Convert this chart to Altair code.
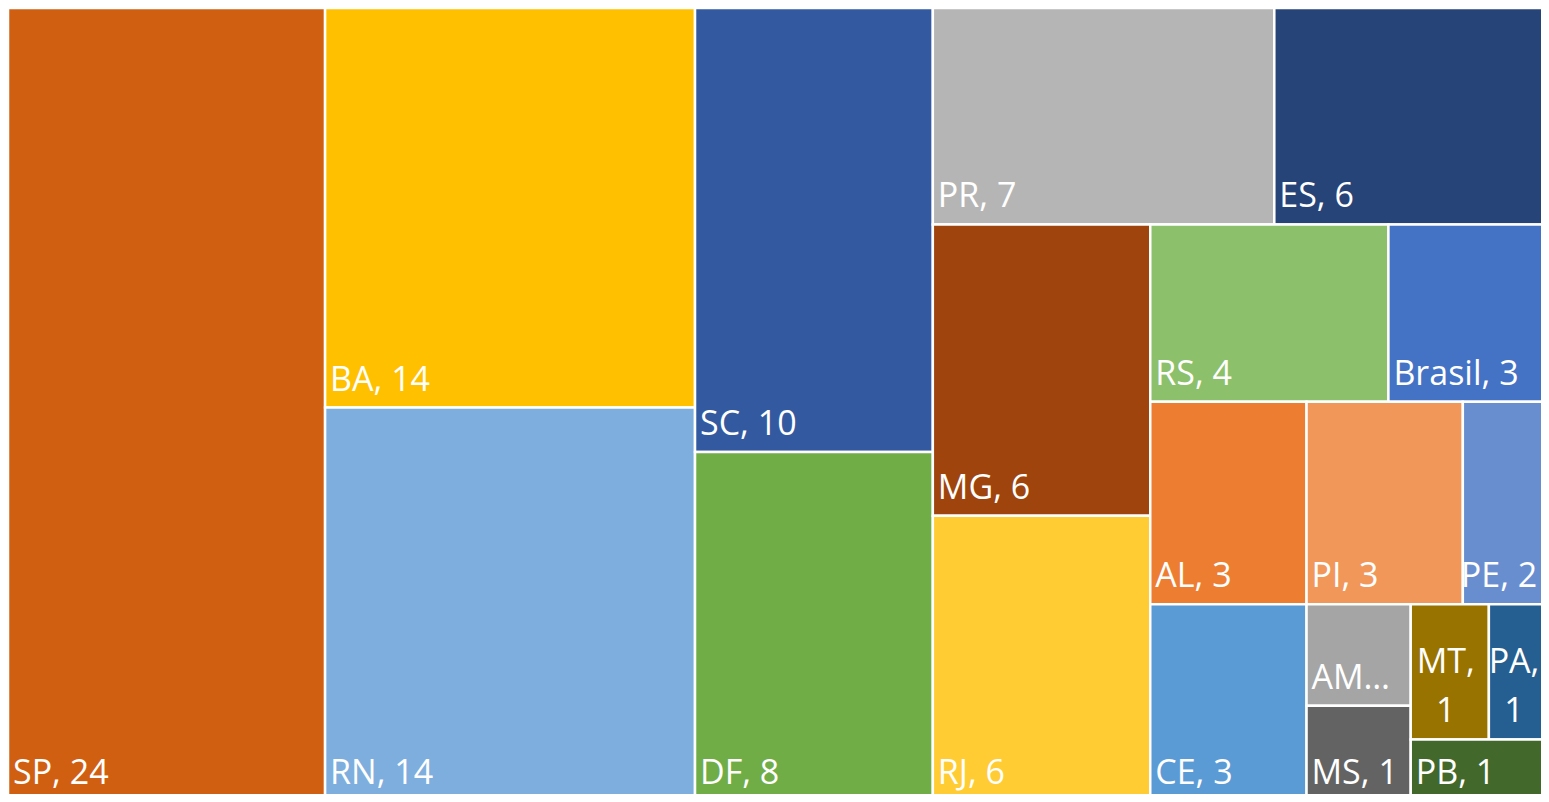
import altair as alt
import pandas as pd

# Data (order as laid out in the treemap)
names = ["SP", "BA", "RN", "SC", "DF", "PR", "ES", "MG", "RJ", "RS",
         "Brasil", "AL", "PI", "PE", "CE", "AM", "MS", "MT", "PA", "PB"]
values = [24, 14, 14, 10, 8, 7, 6, 6, 6, 4,
          3, 3, 3, 2, 3, 1, 1, 1, 1, 1]
colors = ["#D15F12", "#FFC000", "#7DAEDD", "#335AA0", "#70AD47", "#B5B5B5",
          "#264478", "#9E440C", "#FFCC33", "#8DC06A", "#4472C4", "#ED7D31",
          "#F1975A", "#698ED0", "#5B9BD5", "#A5A5A5", "#636363", "#997300",
          "#255E91", "#43682B"]
# strips of the treemap: orientation and number of items in each strip
strip_orient = ["col", "col", "col", "row", "col", "row", "row", "col", "col", "row", "row"]
strip_count = [1, 2, 2, 2, 2, 2, 3, 1, 2, 2, 1]
wrapped = ["MT", "PA"]
truncated = {"AM": "AM…"}

# full treemap size (px); the visible view is smaller and clips it at right/bottom
TW, TH = 1559, 799
VW, VH = 1533, 786

FONT = "Open Sans"
FS = 34


def est_width(s):
    w = 0.0
    for ch in s:
        if ch in ", .":
            w += 0.25
        elif ch.islower():
            w += 0.45
        else:
            w += 0.6
    return w * FS


# Build treemap layout (normalized units) from the values
rows = []
x0, y0, x1, y1 = 0.0, 0.0, 1.0, 1.0
remaining = float(sum(values))
i = 0
for orient, cnt in zip(strip_orient, strip_count):
    items = list(range(i, i + cnt))
    ssum = sum(values[k] for k in items)
    if orient == "col":
        w = ssum / remaining * (x1 - x0)
        yy = y0
        for k in items:
            h = values[k] / ssum * (y1 - y0)
            rows.append((k, x0, x0 + w, yy, yy + h))
            yy += h
        x0 += w
    else:
        h = ssum / remaining * (y1 - y0)
        xx = x0
        for k in items:
            w = values[k] / ssum * (x1 - x0)
            rows.append((k, xx, xx + w, y0, y0 + h))
            xx += w
        y0 += h
    remaining -= ssum
    i += cnt

BASE_OFF = 17  # label baseline distance above the tile bottom (px)
max_ly = (VH - 10 + BASE_OFF) / TH
recs = []
for k, a, b, c, d in rows:
    n = names[k]
    if n in wrapped:
        label = f"{n},\n{values[k]}"
    else:
        label = truncated.get(n, f"{n}, {values[k]}")
    recs.append(dict(name=n, value=values[k], x=a, x2=b, y=c, y2=d,
                     ly=min(d, max_ly),
                     lx=min(a + 5 / TW, (VW - 2 - est_width(label)) / TW),
                     lxc=min(a + 35 / TW, (VW - 27) / TW),
                     label=label, wrap=n in wrapped))
df = pd.DataFrame(recs)

xs = alt.Scale(domain=[0, 1], range=[0, TW], nice=False, zero=False)
ys = alt.Scale(domain=[0, 1], range=[0, TH], nice=False, zero=False)

base = alt.Chart(df)
rects = base.mark_rect(stroke="white", strokeWidth=2.5, clip=True).encode(
    x=alt.X("x:Q", scale=xs, axis=None),
    x2="x2:Q",
    y=alt.Y("y:Q", scale=ys, axis=None),
    y2="y2:Q",
    color=alt.Color("name:N", scale=alt.Scale(domain=names, range=colors), legend=None),
)
labels = base.transform_filter("!datum.wrap").mark_text(
    align="left", baseline="alphabetic", dy=-BASE_OFF, clip=True,
    font=FONT, fontSize=FS, color="white"
).encode(
    x=alt.X("lx:Q", scale=xs, axis=None),
    y=alt.Y("ly:Q", scale=ys, axis=None),
    text="label:N",
)
wlabels = base.transform_filter("datum.wrap").mark_text(
    align="center", baseline="alphabetic", dy=-BASE_OFF - 49, lineBreak="\n", lineHeight=49,
    clip=True, font=FONT, fontSize=FS, color="white"
).encode(
    x=alt.X("lxc:Q", scale=xs, axis=None),
    y=alt.Y("ly:Q", scale=ys, axis=None),
    text="label:N",
)

chart = alt.layer(rects, labels, wlabels).properties(
    width=VW, height=VH, padding=0
).configure_view(stroke=None)

chart.save("out.html", embed_options={"renderer": "svg", "actions": False})
